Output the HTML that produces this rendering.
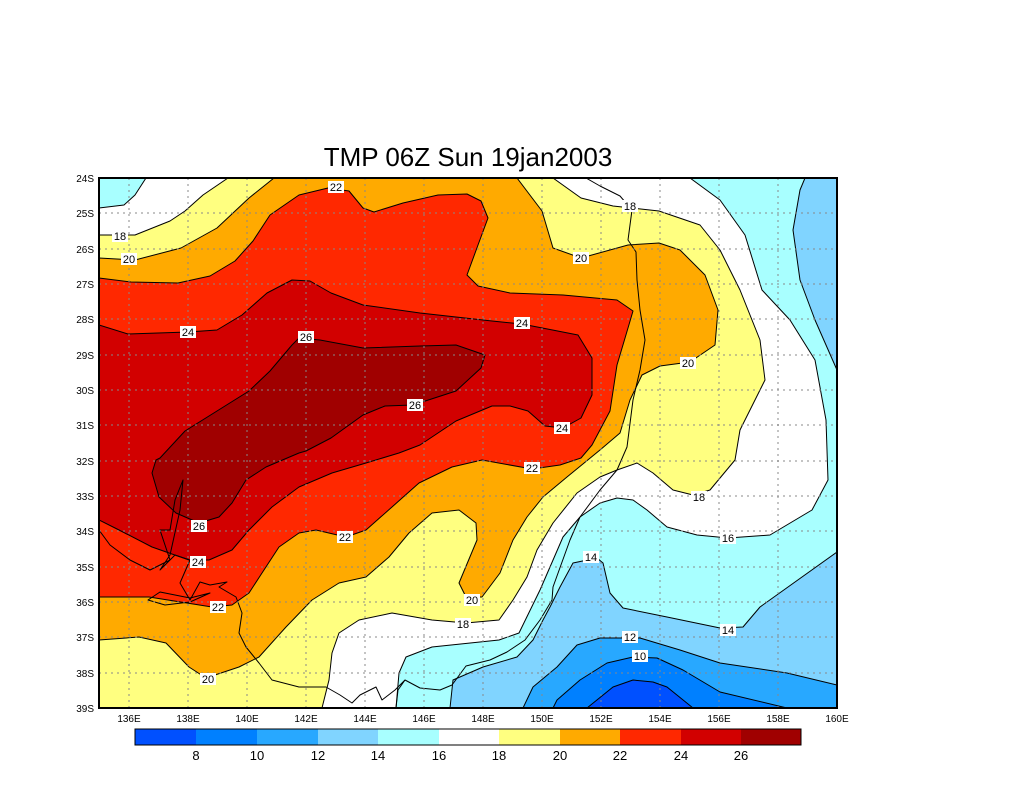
<!DOCTYPE html>
<html><head><meta charset="utf-8"><style>
body{margin:0;background:#fff;}
svg{display:block;font-family:"Liberation Sans",sans-serif;}
</style></head><body>
<svg width="1024" height="800" viewBox="0 0 1024 800">
<rect width="1024" height="800" fill="#fff"/>
<text x="468" y="166" font-size="26" text-anchor="middle" fill="#000">TMP 06Z Sun 19jan2003</text>
<clipPath id="c"><rect x="99" y="178" width="738" height="530"/></clipPath>
<g clip-path="url(#c)" stroke="#000" stroke-width="1" stroke-linejoin="round">
<rect x="99" y="178" width="738" height="530" fill="#fff" stroke="none"/>
<path fill="#a8ffff" d="M99,178 L146,178 L135,195 L124,205 L99,208 Z"/>
<path fill="#a8ffff" d="M690,178 L720,200 L745,235 L762,290 L790,320 L815,360 L826,420 L828,480 L812,510 L770,535 L728,538 L697,535 L667,527 L647,510 L633,500 L617,498 L600,503 L580,517 L563,537 L550,567 L540,590 L519,633 L499,640 L432,647 L406,657 L399,673 L396,708 L837,708 L837,178 Z"/>
<path fill="#80d4ff" d="M805,178 L800,190 L793,230 L800,280 L815,320 L837,370 L837,178 Z"/>
<path fill="#80d4ff" d="M837,552 L760,607 L743,627 L720,628 L667,617 L623,608 L610,593 L603,563 L597,558 L573,563 L560,587 L550,607 L543,620 L533,640 L517,657 L483,667 L453,680 L450,708 L837,708 Z"/>
<path fill="#28a8ff" d="M523,708 L533,687 L557,667 L577,645 L600,638 L640,638 L680,650 L720,663 L787,673 L837,685 L837,708 Z"/>
<path fill="#0080ff" d="M553,708 L557,700 L580,680 L607,663 L633,657 L657,658 L683,670 L720,692 L787,708 Z"/>
<path fill="#0050ff" d="M587,708 L613,687 L633,680 L653,682 L667,687 L693,708 Z"/>
<path fill="#ffff80" d="M99,235 L135,235 L170,221 L185,211 L203,195 L228,178 L553,178 L581,198 L613,206 L659,211 L700,225 L720,250 L740,290 L760,340 L765,380 L750,410 L740,430 L735,460 L710,490 L693,495 L673,490 L653,473 L637,463 L617,470 L600,477 L577,493 L553,523 L537,550 L527,577 L513,600 L499,620 L466,623 L432,620 L392,613 L359,620 L339,633 L332,653 L329,680 L322,708 L99,708 Z"/>
<path fill="#ffaa00" d="M99,258 L135,260 L181,248 L217,228 L249,198 L274,178 L517,178 L542,211 L553,248 L581,258 L628,245 L659,243 L680,250 L705,275 L718,310 L715,345 L690,362 L660,366 L642,375 L630,400 L620,433 L600,450 L567,477 L543,497 L527,517 L513,540 L500,573 L482,597 L466,597 L459,583 L477,540 L476,523 L459,510 L432,513 L409,533 L389,557 L366,577 L339,583 L312,600 L286,627 L259,657 L239,667 L206,678 L189,667 L166,643 L139,637 L99,640 Z"/>
<path fill="#ff2800" d="M99,278 L131,282 L178,283 L210,276 L235,261 L253,241 L270,215 L299,195 L328,188 L349,191 L363,208 L374,212 L403,203 L438,195 L467,194 L481,201 L488,218 L478,245 L467,275 L478,286 L510,293 L563,295 L617,300 L633,311 L628,328 L617,365 L610,411 L592,445 L581,458 L560,465 L532,469 L482,460 L452,467 L419,483 L392,507 L366,530 L346,537 L316,530 L299,533 L279,547 L262,573 L249,593 L232,605 L212,607 L149,597 L99,597 Z"/>
<path fill="#d20000" d="M99,325 L128,334 L188,332 L217,330 L242,315 L267,293 L292,280 L310,281 L331,293 L363,305 L420,313 L492,321 L522,324 L578,335 L592,358 L592,395 L581,418 L563,428 L545,426 L528,411 L510,406 L492,406 L456,421 L420,445 L399,453 L366,463 L332,473 L299,487 L272,507 L249,530 L232,550 L209,560 L189,560 L152,547 L119,530 L99,520 Z"/>
<path fill="#a00000" d="M299,338 L320,340 L363,348 L420,346 L456,345 L485,355 L481,368 L456,391 L413,405 L385,406 L363,415 L331,438 L306,451 L299,453 L266,467 L246,480 L232,503 L219,517 L199,523 L176,513 L159,497 L152,473 L156,460 L160,458 L185,431 L217,411 L249,391 L270,371 L292,345 Z"/>
<path fill="none" d="M586,178 L600,186 L620,196 L632,210 L628,240 L636,252 L637,280 L640,310 L645,340 L640,370 L633,400 L627,447 L617,470 L600,490 L580,517 L570,540 L553,587 L552,600 L540,620 L525,640 L507,652 L490,660 L466,666 L452,685 L440,690 L420,688 L405,680 L395,690 L382,700 L376,687 L360,695 L352,703 L340,695 L326,687 L299,687 L272,680 L259,663 L246,647 L239,633 L242,613 L236,597 L219,587 L227,582 L210,585 L200,582 L190,600 L180,583 L190,560 L175,555 L160,570 L170,555 L180,510 L183,480 L175,500 L170,530 L160,530 L170,560 L150,570 L130,560 L110,545 L99,530"/>
<path fill="none" d="M148,600 L160,592 L190,598 L210,593 L190,602 L165,605 Z"/>
<path fill="none" d="M396,708 L398,690 L405,680"/>
</g>
<g stroke="#888" stroke-width="1" stroke-dasharray="2,4" fill="none">
<path d="M129,178V708M188,178V708M247,178V708M306,178V708M365,178V708M424,178V708M483,178V708M542,178V708M601,178V708M660,178V708M719,178V708M778,178V708"/>
<path d="M99,213H837M99,249H837M99,284H837M99,319H837M99,355H837M99,390H837M99,425H837M99,461H837M99,496H837M99,531H837M99,567H837M99,602H837M99,637H837M99,673H837"/>
</g>
<rect x="99" y="178" width="738" height="530" fill="none" stroke="#000" stroke-width="2"/>
<g font-size="11" text-anchor="middle">
<g fill="#fff"><rect x="112" y="230" width="16" height="12"/><rect x="121" y="253" width="16" height="12"/><rect x="328" y="181" width="16" height="12"/><rect x="180" y="326" width="16" height="12"/><rect x="298" y="331" width="16" height="12"/><rect x="514" y="317" width="16" height="12"/><rect x="407" y="399" width="16" height="12"/><rect x="554" y="422" width="16" height="12"/><rect x="524" y="462" width="16" height="12"/><rect x="573" y="252" width="16" height="12"/><rect x="622" y="200" width="16" height="12"/><rect x="680" y="357" width="16" height="12"/><rect x="691" y="491" width="16" height="12"/><rect x="191" y="520" width="16" height="12"/><rect x="190" y="556" width="16" height="12"/><rect x="337" y="531" width="16" height="12"/><rect x="210" y="601" width="16" height="12"/><rect x="464" y="594" width="16" height="12"/><rect x="455" y="618" width="16" height="12"/><rect x="200" y="673" width="16" height="12"/><rect x="720" y="532" width="16" height="12"/><rect x="583" y="551" width="16" height="12"/><rect x="720" y="624" width="16" height="12"/><rect x="622" y="631" width="16" height="12"/><rect x="632" y="650" width="16" height="12"/></g>
<text x="120" y="240">18</text><text x="129" y="263">20</text><text x="336" y="191">22</text><text x="188" y="336">24</text><text x="306" y="341">26</text><text x="522" y="327">24</text><text x="415" y="409">26</text><text x="562" y="432">24</text><text x="532" y="472">22</text><text x="581" y="262">20</text><text x="630" y="210">18</text><text x="688" y="367">20</text><text x="699" y="501">18</text><text x="199" y="530">26</text><text x="198" y="566">24</text><text x="345" y="541">22</text><text x="218" y="611">22</text><text x="472" y="604">20</text><text x="463" y="628">18</text><text x="208" y="683">20</text><text x="728" y="542">16</text><text x="591" y="561">14</text><text x="728" y="634">14</text><text x="630" y="641">12</text><text x="640" y="660">10</text>
</g>
<g font-size="10" text-anchor="end">
<text x="94" y="182">24S</text><text x="94" y="217">25S</text><text x="94" y="253">26S</text><text x="94" y="288">27S</text><text x="94" y="323">28S</text><text x="94" y="359">29S</text><text x="94" y="394">30S</text><text x="94" y="429">31S</text><text x="94" y="465">32S</text><text x="94" y="500">33S</text><text x="94" y="535">34S</text><text x="94" y="571">35S</text><text x="94" y="606">36S</text><text x="94" y="641">37S</text><text x="94" y="677">38S</text><text x="94" y="712">39S</text>
</g>
<g font-size="10" text-anchor="middle">
<text x="129" y="722">136E</text><text x="188" y="722">138E</text><text x="247" y="722">140E</text><text x="306" y="722">142E</text><text x="365" y="722">144E</text><text x="424" y="722">146E</text><text x="483" y="722">148E</text><text x="542" y="722">150E</text><text x="601" y="722">152E</text><text x="660" y="722">154E</text><text x="719" y="722">156E</text><text x="778" y="722">158E</text><text x="837" y="722">160E</text>
</g>
<g>
<rect x="135" y="729" width="61" height="16" fill="#0050ff"/>
<rect x="196" y="729" width="61" height="16" fill="#0080ff"/>
<rect x="257" y="729" width="61" height="16" fill="#28a8ff"/>
<rect x="318" y="729" width="60" height="16" fill="#80d4ff"/>
<rect x="378" y="729" width="61" height="16" fill="#a8ffff"/>
<rect x="439" y="729" width="60" height="16" fill="#fff"/>
<rect x="499" y="729" width="61" height="16" fill="#ffff80"/>
<rect x="560" y="729" width="60" height="16" fill="#ffaa00"/>
<rect x="620" y="729" width="61" height="16" fill="#ff2800"/>
<rect x="681" y="729" width="60" height="16" fill="#d20000"/>
<rect x="741" y="729" width="60" height="16" fill="#a00000"/>
<rect x="135" y="729" width="666" height="16" fill="none" stroke="#000" stroke-width="1"/>
</g>
<g font-size="13" text-anchor="middle">
<text x="196" y="760">8</text><text x="257" y="760">10</text><text x="318" y="760">12</text><text x="378" y="760">14</text><text x="439" y="760">16</text><text x="499" y="760">18</text><text x="560" y="760">20</text><text x="620" y="760">22</text><text x="681" y="760">24</text><text x="741" y="760">26</text>
</g>
</svg>
</body></html>
